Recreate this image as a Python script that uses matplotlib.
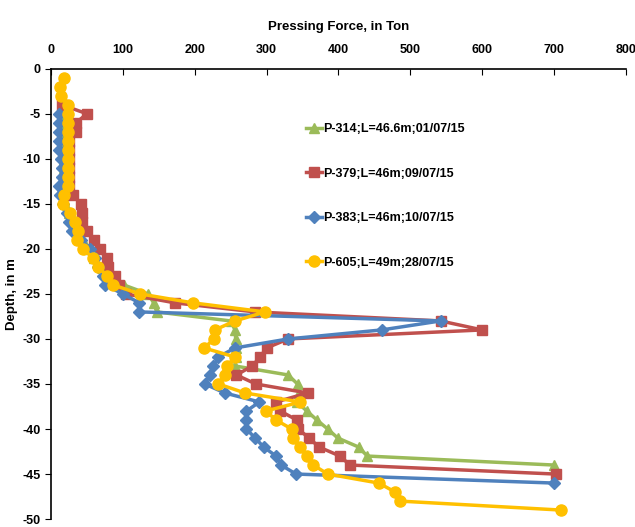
import matplotlib
matplotlib.use('Agg')
from matplotlib import pyplot as plt

# depth (m) and pressing force (ton) per pile
depth_314 = [-4, -5, -6, -7, -8, -9, -10, -11, -12, -13, -14, -15, -16, -17, -18, -19, -20,
             -21, -22, -23, -24, -25, -26, -27, -28, -29, -30, -31, -32, -33, -34, -35, -36,
             -37, -38, -39, -40, -41, -42, -43, -44]
force_314 = [16, 16, 16, 17, 17, 17, 18, 18, 18, 18, 18, 20, 25, 30, 36, 44, 52,
             60, 70, 82, 101, 135, 143, 147, 250, 256, 257, 257, 257, 256, 330, 343, 345,
             342, 356, 370, 385, 399, 428, 440, 700]

depth_379 = [-4, -5, -6, -7, -8, -9, -10, -11, -12, -13, -14, -15, -16, -17, -18, -19, -20,
             -21, -22, -23, -24, -25, -26, -27, -28, -29, -30, -31, -32, -33, -34, -35, -36,
             -37, -38, -39, -40, -41, -42, -43, -44, -45]
force_379 = [15, 50, 35, 35, 25, 25, 25, 25, 25, 25, 30, 42, 43, 43, 50, 60, 68,
             78, 80, 89, 95, 104, 173, 284, 542, 600, 330, 300, 291, 280, 258, 285, 357,
             313, 319, 342, 344, 359, 373, 402, 416, 702]

depth_383 = [-5, -6, -7, -8, -9, -10, -11, -12, -13, -14, -15, -16, -17, -18, -19, -20,
             -21, -22, -23, -24, -25, -26, -27, -28, -29, -30, -31, -32, -33, -34, -35, -36,
             -37, -38, -39, -40, -41, -42, -43, -44, -45, -46]
force_383 = [11, 11, 11, 11, 11, 14, 15, 15, 11, 12, 17, 22, 25, 29, 42, 54,
             61, 66, 73, 75, 100, 123, 123, 542, 460, 330, 256, 233, 226, 221, 214, 242,
             290, 272, 272, 272, 284, 296, 313, 320, 341, 700]

depth_605 = [-1, -2, -3, -4, -5, -6, -7, -8, -9, -10, -11, -12, -13, -14, -15, -16, -17,
             -18, -19, -20, -21, -22, -23, -24, -25, -26, -27, -28, -29, -30, -31, -32, -33,
             -34, -35, -36, -37, -38, -39, -40, -41, -42, -43, -44, -45, -46, -47, -48, -49]
force_605 = [18, 12, 14, 24, 24, 24, 24, 24, 24, 24, 24, 24, 24, 18, 17, 26, 34,
             38, 36, 45, 58, 66, 78, 86, 124, 198, 298, 256, 228, 227, 213, 256, 245,
             242, 233, 270, 347, 299, 313, 335, 337, 347, 356, 365, 385, 456, 479, 485, 710]

labels = ['P-314;L=46.6m;01/07/15', 'P-379;L=46m;09/07/15',
          'P-383;L=46m;10/07/15', 'P-605;L=49m;28/07/15']
colors = ['#9BBB59', '#C0504D', '#4F81BD', '#FFC000']
markers = ['^', 's', 'D', 'o']
msizes = [7, 7, 6, 8]

plt.rcParams['font.family'] = ['Liberation Sans', 'DejaVu Sans']
plt.rcParams['axes.unicode_minus'] = False

fig = plt.figure(figsize=(6.35, 5.27), dpi=100)
ax = fig.add_axes([0.0803, 0.015, 0.9055, 0.8546])

series = [(force_314, depth_314), (force_379, depth_379),
          (force_383, depth_383), (force_605, depth_605)]
for i, (f, d) in enumerate(series):
    ax.plot(f, d, color=colors[i], marker=markers[i], markersize=msizes[i],
            linewidth=2.5, label=labels[i], clip_on=False)

ax.set_xlim(0, 800)
ax.set_ylim(-50, 0)
ax.set_xticks(range(0, 801, 100))
ax.set_yticks(range(-50, 1, 5))
ax.xaxis.tick_top()
ax.xaxis.set_label_position('top')
ax.spines['right'].set_visible(False)
ax.spines['bottom'].set_visible(False)
ax.spines['top'].set_linewidth(1.2)
ax.spines['left'].set_linewidth(1.2)
ax.tick_params(axis='x', direction='in', length=4, labelsize=9, pad=9)
ax.tick_params(axis='y', direction='out', length=4, labelsize=9)
for t in ax.get_xticklabels() + ax.get_yticklabels():
    t.set_fontweight('bold')

ax.set_xlabel('Pressing Force, in Ton', fontsize=9.5, fontweight='bold', labelpad=10)
ax.set_ylabel('Depth, in m', fontsize=9.5, fontweight='bold')
ax.yaxis.set_label_coords(-0.058, 0.5)

ax.legend(loc='upper left', bbox_to_anchor=(0.435, 0.89), frameon=False,
          prop={'weight': 'bold', 'size': 9}, labelspacing=2.6,
          handlelength=1.3, handletextpad=0.1, borderaxespad=0)

plt.savefig('out.png', dpi=100)
